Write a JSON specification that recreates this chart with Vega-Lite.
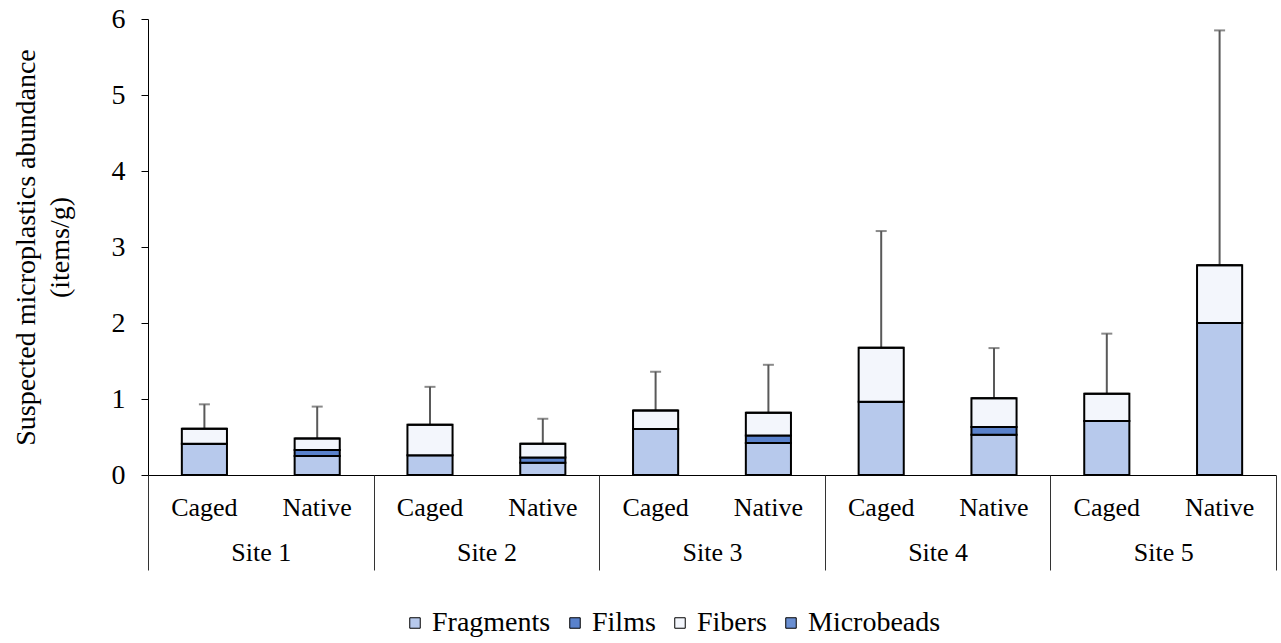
{
  "$schema": "https://vega.github.io/schema/vega-lite/v6.json",
  "width": 1128,
  "height": 456,
  "padding": {"left": 12, "top": 5, "right": 4, "bottom": 2},
  "background": "white",
  "config": {
    "view": {"stroke": null},
    "font": "Liberation Serif",
    "axis": {"grid": false},
    "legend": {"labelFont": "Liberation Serif", "labelFontSize": 28, "labelColor": "black"}
  },
  "datasets": {
    "bars": [
      {"group": "Site 1|Caged", "type": "Fragments", "ord": 1, "value": 0.41},
      {"group": "Site 1|Caged", "type": "Films", "ord": 2, "value": 0},
      {"group": "Site 1|Caged", "type": "Fibers", "ord": 3, "value": 0.20},
      {"group": "Site 1|Caged", "type": "Microbeads", "ord": 4, "value": 0},
      {"group": "Site 1|Native", "type": "Fragments", "ord": 1, "value": 0.25},
      {"group": "Site 1|Native", "type": "Films", "ord": 2, "value": 0.08},
      {"group": "Site 1|Native", "type": "Fibers", "ord": 3, "value": 0.15},
      {"group": "Site 1|Native", "type": "Microbeads", "ord": 4, "value": 0},
      {"group": "Site 2|Caged", "type": "Fragments", "ord": 1, "value": 0.26},
      {"group": "Site 2|Caged", "type": "Films", "ord": 2, "value": 0},
      {"group": "Site 2|Caged", "type": "Fibers", "ord": 3, "value": 0.40},
      {"group": "Site 2|Caged", "type": "Microbeads", "ord": 4, "value": 0},
      {"group": "Site 2|Native", "type": "Fragments", "ord": 1, "value": 0.16},
      {"group": "Site 2|Native", "type": "Films", "ord": 2, "value": 0.07},
      {"group": "Site 2|Native", "type": "Fibers", "ord": 3, "value": 0.18},
      {"group": "Site 2|Native", "type": "Microbeads", "ord": 4, "value": 0},
      {"group": "Site 3|Caged", "type": "Fragments", "ord": 1, "value": 0.605},
      {"group": "Site 3|Caged", "type": "Films", "ord": 2, "value": 0},
      {"group": "Site 3|Caged", "type": "Fibers", "ord": 3, "value": 0.245},
      {"group": "Site 3|Caged", "type": "Microbeads", "ord": 4, "value": 0},
      {"group": "Site 3|Native", "type": "Fragments", "ord": 1, "value": 0.42},
      {"group": "Site 3|Native", "type": "Films", "ord": 2, "value": 0.10},
      {"group": "Site 3|Native", "type": "Fibers", "ord": 3, "value": 0.30},
      {"group": "Site 3|Native", "type": "Microbeads", "ord": 4, "value": 0},
      {"group": "Site 4|Caged", "type": "Fragments", "ord": 1, "value": 0.965},
      {"group": "Site 4|Caged", "type": "Films", "ord": 2, "value": 0},
      {"group": "Site 4|Caged", "type": "Fibers", "ord": 3, "value": 0.71},
      {"group": "Site 4|Caged", "type": "Microbeads", "ord": 4, "value": 0},
      {"group": "Site 4|Native", "type": "Fragments", "ord": 1, "value": 0.53},
      {"group": "Site 4|Native", "type": "Films", "ord": 2, "value": 0.10},
      {"group": "Site 4|Native", "type": "Fibers", "ord": 3, "value": 0.38},
      {"group": "Site 4|Native", "type": "Microbeads", "ord": 4, "value": 0},
      {"group": "Site 5|Caged", "type": "Fragments", "ord": 1, "value": 0.71},
      {"group": "Site 5|Caged", "type": "Films", "ord": 2, "value": 0},
      {"group": "Site 5|Caged", "type": "Fibers", "ord": 3, "value": 0.36},
      {"group": "Site 5|Caged", "type": "Microbeads", "ord": 4, "value": 0},
      {"group": "Site 5|Native", "type": "Fragments", "ord": 1, "value": 2.0},
      {"group": "Site 5|Native", "type": "Films", "ord": 2, "value": 0},
      {"group": "Site 5|Native", "type": "Fibers", "ord": 3, "value": 0.76},
      {"group": "Site 5|Native", "type": "Microbeads", "ord": 4, "value": 0}
    ],
    "err": [
      {"group": "Site 1|Caged", "total": 0.61, "upper": 0.93},
      {"group": "Site 1|Native", "total": 0.48, "upper": 0.90},
      {"group": "Site 2|Caged", "total": 0.66, "upper": 1.16},
      {"group": "Site 2|Native", "total": 0.41, "upper": 0.74},
      {"group": "Site 3|Caged", "total": 0.85, "upper": 1.36},
      {"group": "Site 3|Native", "total": 0.82, "upper": 1.45},
      {"group": "Site 4|Caged", "total": 1.675, "upper": 3.21},
      {"group": "Site 4|Native", "total": 1.01, "upper": 1.67},
      {"group": "Site 5|Caged", "total": 1.07, "upper": 1.86},
      {"group": "Site 5|Native", "total": 2.76, "upper": 5.85}
    ],
    "sites": [
      {"site": "Site 1"}, {"site": "Site 2"}, {"site": "Site 3"}, {"site": "Site 4"}, {"site": "Site 5"}
    ]
  },
  "layer": [
    {
      "layer": [
        {
          "data": {"name": "err"},
          "mark": {"type": "rule", "color": "#595959", "strokeWidth": 2},
          "encoding": {
            "x": {"field": "group", "type": "nominal", "sort": null},
            "y": {"field": "total", "type": "quantitative", "title": ["Suspected microplastics abundance", "(items/g)"]},
            "y2": {"field": "upper"}
          }
        },
        {
          "data": {"name": "err"},
          "mark": {"type": "tick", "color": "#595959", "thickness": 2, "size": 11, "orient": "horizontal"},
          "encoding": {
            "x": {"field": "group", "type": "nominal", "sort": null},
            "y": {"field": "upper", "type": "quantitative", "title": ["Suspected microplastics abundance", "(items/g)"]}
          }
        },
        {
          "data": {"name": "bars"},
          "mark": {"type": "bar", "stroke": "black", "strokeWidth": 2},
          "encoding": {
            "x": {
              "field": "group", "type": "nominal", "sort": null,
              "scale": {"paddingInner": 0.6, "paddingOuter": 0.3},
              "axis": {
                "orient": "bottom", "title": null, "labelAngle": 0, "labelAlign": "center", "ticks": false,
                "domainColor": "black", "domainWidth": 1,
                "labelExpr": "split(datum.label, '|')[1]", "labelFont": "Liberation Serif", "labelFontSize": 26,
                "labelColor": "black", "labelPadding": 32
              }
            },
            "y": {
              "field": "value", "type": "quantitative", "stack": "zero",
              "title": ["Suspected microplastics abundance", "(items/g)"],
              "scale": {"domain": [0, 6], "nice": false},
              "axis": {
                "values": [0, 1, 2, 3, 4, 5, 6], "format": "d", "domainColor": "black", "tickColor": "black", "tickSize": 7,
                "labelFont": "Liberation Serif", "labelFontSize": 28, "labelColor": "black", "labelPadding": 16,
                "titleFont": "Liberation Serif", "titleFontSize": 28, "titleFontWeight": "normal", "titleColor": "black",
                "titleLineHeight": 34, "titlePadding": 37
              }
            },
            "color": {
              "field": "type", "type": "nominal",
              "scale": {"domain": ["Fragments", "Films", "Fibers", "Microbeads"], "range": ["#b7c9ec", "#5a82cc", "#f3f6fc", "#6a8fd2"]},
              "legend": {
                "title": null, "orient": "none", "legendX": 253, "legendY": 590, "direction": "horizontal",
                "symbolType": "square", "symbolSize": 110, "symbolStrokeColor": "black", "symbolStrokeWidth": 1,
                "labelFont": "Liberation Serif", "labelFontSize": 28, "labelColor": "black", "labelOffset": 3,
                "columnPadding": 10
              }
            },
            "order": {"field": "ord", "type": "quantitative"}
          }
        }
      ]
    },
    {
      "data": {"name": "sites"},
      "mark": {"type": "point", "opacity": 0},
      "encoding": {
        "x": {
          "field": "site", "type": "nominal",
          "scale": {"type": "band", "paddingInner": 0, "paddingOuter": 0},
          "axis": {
            "orient": "bottom", "title": null, "labelAngle": 0, "labelAlign": "center", "domain": false,
            "tickBand": "extent", "tickSize": 95,
            "tickColor": "#333333", "tickWidth": 1, "labelPadding": -31,
            "labelFont": "Liberation Serif", "labelFontSize": 26, "labelColor": "black"
          }
        }
      }
    }
  ],
  "resolve": {"scale": {"x": "independent"}, "axis": {"x": "independent"}}
}
